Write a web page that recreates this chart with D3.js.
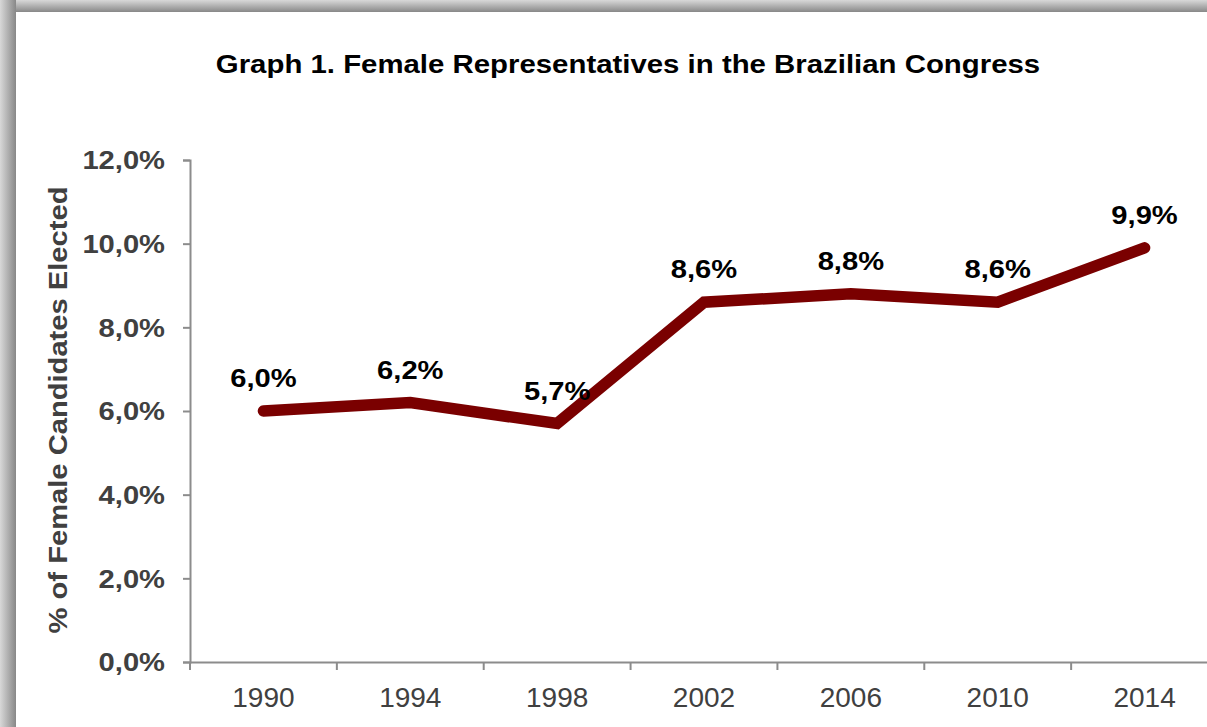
<!DOCTYPE html>
<html>
<head>
<meta charset="utf-8">
<script src="https://cdn.jsdelivr.net/npm/d3@7/dist/d3.min.js"></script>
<style>
  html, body { margin: 0; padding: 0; background: #ffffff; }
  svg { display: block; font-family: "Liberation Sans", Arial, sans-serif; }
</style>
</head>
<body>
<svg id="chart" width="1207" height="727"></svg>
<script>
// Election years and share of women elected (%)
const years = ["1990", "1994", "1998", "2002", "2006", "2010", "2014"];
const femaleShare = [6.0, 6.2, 5.7, 8.6, 8.8, 8.6, 9.9];
const yTicks = [0, 2, 4, 6, 8, 10, 12];

const svg = d3.select("#chart");
const W = 1207, H = 727;
const boldStretch = 1.1;   // bold labels are set a little wide
const titleStretch = 1.13;
const pct = v => d3.format(".1f")(v).replace(".", ",") + "%";

// Frame with a soft gray edge along the top and left
const defs = svg.append("defs");
const gl = defs.append("linearGradient").attr("id", "edgeLeft").attr("x1", 0).attr("x2", 1).attr("y1", 0).attr("y2", 0);
gl.append("stop").attr("offset", "0%").attr("stop-color", "#d8d8d8");
gl.append("stop").attr("offset", "60%").attr("stop-color", "#a8a8a8");
gl.append("stop").attr("offset", "100%").attr("stop-color", "#888888");
const gt = defs.append("linearGradient").attr("id", "edgeTop").attr("x1", 0).attr("x2", 0).attr("y1", 0).attr("y2", 1);
gt.append("stop").attr("offset", "0%").attr("stop-color", "#d8d8d8");
gt.append("stop").attr("offset", "60%").attr("stop-color", "#a8a8a8");
gt.append("stop").attr("offset", "100%").attr("stop-color", "#888888");

svg.append("rect").attr("x", 0).attr("y", 0).attr("width", W).attr("height", 12).attr("fill", "url(#edgeTop)");
svg.append("rect").attr("x", 0).attr("y", 0).attr("width", 16).attr("height", H).attr("fill", "url(#edgeLeft)");

const margin = { left: 190, top: 160, bottom: 662 };
const plotRight = 1218;

const x = d3.scaleBand().domain(years).range([margin.left, plotRight]).padding(0);
const y = d3.scaleLinear().domain([0, 12]).range([margin.bottom, margin.top]);

const axisColor = "#8c8c8c";
const labelColor = "#404040";

// Title
svg.append("text")
  .attr("transform", `translate(628,73) scale(${titleStretch},1)`)
  .attr("text-anchor", "middle")
  .attr("font-size", 26).attr("font-weight", "bold").attr("fill", "#000")
  .text("Graph 1. Female Representatives in the Brazilian Congress");

// Y axis
const yAxis = svg.append("g")
  .attr("transform", `translate(${margin.left},0)`)
  .call(d3.axisLeft(y).tickValues(yTicks).tickSize(7).tickFormat(pct));
yAxis.select(".domain").attr("stroke", axisColor).attr("stroke-width", 2);
yAxis.selectAll(".tick line").attr("stroke", axisColor).attr("stroke-width", 2);
yAxis.selectAll(".tick text")
  .attr("x", 0)
  .attr("transform", `translate(-25,0) scale(${boldStretch},1)`)
  .attr("dy", "0.33em")
  .attr("font-size", 26.5).attr("font-weight", "bold").attr("fill", labelColor)
  .attr("font-family", "'Liberation Sans', Arial, sans-serif");

// X axis with ticks between categories
const xAxis = svg.append("g")
  .attr("transform", `translate(0,${margin.bottom})`)
  .call(d3.axisBottom(x).tickSize(0));
xAxis.select(".domain").attr("stroke", axisColor).attr("stroke-width", 2);
xAxis.selectAll(".tick text")
  .attr("y", 45).attr("dy", 0)
  .attr("font-size", 28).attr("fill", labelColor)
  .attr("font-family", "'Liberation Sans', Arial, sans-serif");
xAxis.selectAll(".sep")
  .data(years)
  .enter().append("line")
  .attr("class", "sep")
  .attr("x1", d => x(d)).attr("x2", d => x(d))
  .attr("y1", 0).attr("y2", 8)
  .attr("stroke", axisColor).attr("stroke-width", 2);

// Y axis title
svg.append("text")
  .attr("transform", `translate(67,${(margin.top + margin.bottom) / 2 - 1}) rotate(-90) scale(${boldStretch},1)`)
  .attr("text-anchor", "middle")
  .attr("font-size", 26.5).attr("font-weight", "bold").attr("fill", labelColor)
  .text("% of Female Candidates Elected");

// Series line
const pts = years.map((yr, i) => ({ yr, v: femaleShare[i] }));
const cx = d => x(d.yr) + x.bandwidth() / 2;
const line = d3.line().x(cx).y(d => y(d.v));
svg.append("path")
  .datum(pts)
  .attr("d", line)
  .attr("fill", "none")
  .attr("stroke", "#7a0000")
  .attr("stroke-width", 11.5)
  .attr("stroke-linejoin", "miter")
  .attr("stroke-linecap", "round");

// Value labels above each point
svg.selectAll(".vlabel")
  .data(pts)
  .enter().append("text")
  .attr("class", "vlabel")
  .attr("transform", d => `translate(${cx(d)},${y(d.v) - 24}) scale(${boldStretch},1)`)
  .attr("text-anchor", "middle")
  .attr("font-size", 26.5).attr("font-weight", "bold").attr("fill", "#000")
  .text(d => pct(d.v));
</script>
</body>
</html>
